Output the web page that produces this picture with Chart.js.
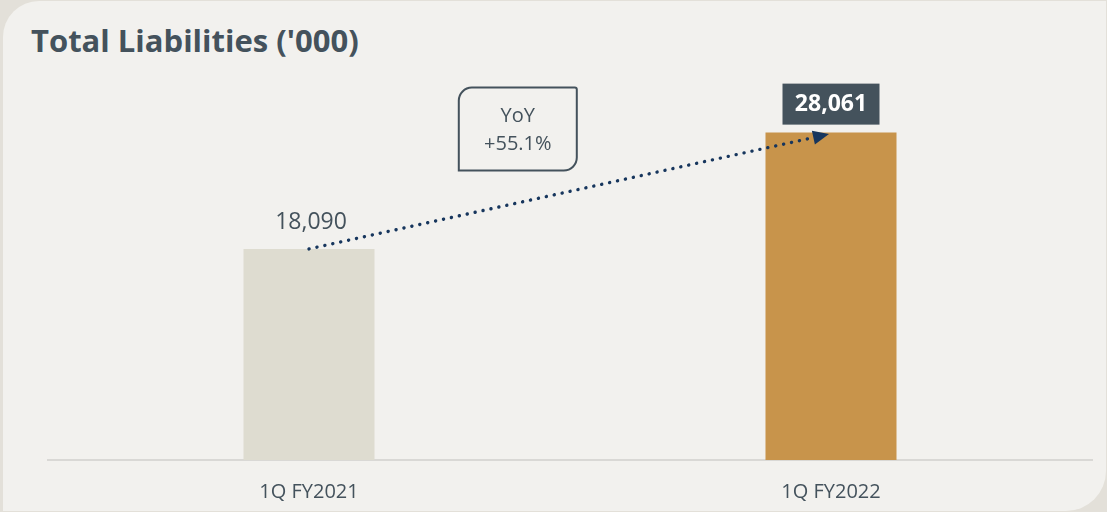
<!DOCTYPE html>
<html>
<head>
<meta charset="utf-8">
<script src="https://cdn.jsdelivr.net/npm/chart.js@4"></script>
<style>
  html, body { margin: 0; padding: 0; }
  body { width: 1107px; height: 512px; background: #e3e0d9; position: relative; overflow: hidden; font-family: 'Open Sans', sans-serif; }
  .cartao { position: absolute; left: 3px; top: 1px; width: 1103px; height: 510px; background: #f2f1ee; border-radius: 36px 0 40px 0; }
  h1 { position: absolute; left: 31px; top: 25px; margin: 0; font-size: 31px; line-height: 1; font-weight: 700; color: #44525c; }
  .grafico { position: absolute; left: 0; top: 0; width: 1107px; height: 512px; }
</style>
</head>
<body>
<div class="cartao"></div>
<h1>Total Liabilities ('000)</h1>
<div class="grafico"><canvas id="graficoPassivo"></canvas></div>
<script>
// Passivo total por trimestre (em milhares)
const categorias = ['1Q FY2021', '1Q FY2022'];
const valores = [18090, 28061];
const coresBarras = ['#dedcd0', '#c8944b'];

const corTexto = '#44525c';
const corSeta = '#17365d';

function formatar(v) {
    return v.toLocaleString('en-US');
}

// Rótulos de valor, caixa YoY e seta pontilhada entre as barras
const rotulos = {
    id: 'rotulos',
    afterDatasetsDraw(chart) {
        const ctx = chart.ctx;
        const [b1, b2] = chart.getDatasetMeta(0).data;
        ctx.save();
        ctx.textAlign = 'center';
        ctx.textBaseline = 'middle';

        // valor do primeiro trimestre
        ctx.fillStyle = corTexto;
        ctx.font = '23px "Open Sans"';
        ctx.fillText(formatar(valores[0]), b1.x + 2, b1.y - 26);

        // valor em destaque
        ctx.fillRect(b2.x - 48.5, b2.y - 49, 97, 41);
        ctx.fillStyle = '#ffffff';
        ctx.font = 'bold 23px "Open Sans"';
        ctx.fillText(formatar(valores[1]), b2.x, b2.y - 28);

        // caixa de variação anual
        const yoy = ((valores[1] / valores[0] - 1) * 100).toFixed(1);
        const cx = b1.x + 0.4 * (b2.x - b1.x);
        const topo = b2.y - 45;
        ctx.beginPath();
        ctx.roundRect(cx - 59, topo, 118, 83, [13, 2, 13, 0]);
        ctx.lineWidth = 2;
        ctx.strokeStyle = corTexto;
        ctx.stroke();
        ctx.fillStyle = corTexto;
        ctx.font = '20px "Open Sans"';
        ctx.fillText('YoY', cx, topo + 29);
        ctx.fillText('+' + yoy + '%', cx, topo + 57);

        // seta pontilhada
        const x0 = b1.x, y0 = b1.y;
        const x1 = b2.x - 2, y1 = b2.y + 1.5;
        const ang = Math.atan2(y1 - y0, x1 - x0);
        const compr = 16, meia = 7;
        const bx = x1 - compr * Math.cos(ang), by = y1 - compr * Math.sin(ang);
        ctx.beginPath();
        ctx.setLineDash([0.1, 8]);
        ctx.lineCap = 'round';
        ctx.lineWidth = 3.4;
        ctx.strokeStyle = corSeta;
        ctx.moveTo(x0, y0);
        ctx.lineTo(bx, by);
        ctx.stroke();
        ctx.setLineDash([]);
        ctx.beginPath();
        ctx.moveTo(x1, y1);
        ctx.lineTo(bx + meia * Math.sin(ang), by - meia * Math.cos(ang));
        ctx.lineTo(bx - meia * Math.sin(ang), by + meia * Math.cos(ang));
        ctx.closePath();
        ctx.fillStyle = corSeta;
        ctx.fill();
        ctx.restore();
    }
};

const ctx = document.getElementById('graficoPassivo').getContext('2d');
new Chart(ctx, {
    type: 'bar',
    data: {
        labels: categorias,
        datasets: [{
            label: 'Total Liabilities',
            data: valores,
            backgroundColor: coresBarras,
            borderWidth: 0,
            categoryPercentage: 1,
            barPercentage: 0.251,
        }]
    },
    options: {
        responsive: true,
        maintainAspectRatio: false,
        animation: false,
        layout: {
            padding: { top: 110, left: 48, right: 15, bottom: 10 }
        },
        plugins: {
            legend: { display: false },
            tooltip: { enabled: false }
        },
        scales: {
            x: {
                grid: { display: false, drawTicks: false },
                border: { display: true, color: '#d9d8d5', width: 2 },
                ticks: {
                    color: corTexto,
                    font: { family: 'Open Sans', size: 20 },
                    padding: 20,
                    maxRotation: 0
                },
                afterFit(escala) {
                    escala.height = 42;
                }
            },
            y: { display: false, min: 0, max: 30000 }
        }
    },
    plugins: [rotulos]
});
</script>
</body>
</html>
